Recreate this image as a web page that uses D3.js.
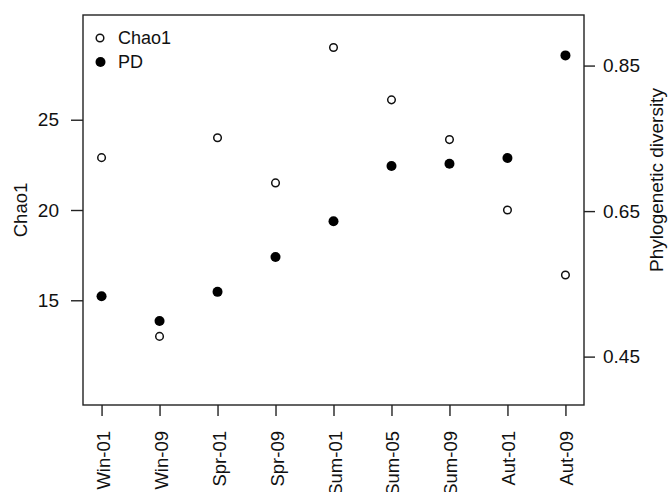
<!DOCTYPE html>
<html><head><meta charset="utf-8">
<script src="https://cdn.jsdelivr.net/npm/d3@7"></script>
<style>
html,body{margin:0;padding:0;background:#fff;}
svg{display:block;}
text{font-family:"Liberation Sans",Arial,Helvetica,sans-serif;fill:#111;}
</style></head>
<body>
<svg id="chart" width="668" height="492"></svg>
<script>
const categories = ["Win-01","Win-09","Spr-01","Spr-09","Sum-01","Sum-05","Sum-09","Aut-01","Aut-09"];
const chao1 = [22.9, 13.0, 24.0, 21.5, 29.0, 26.1, 23.9, 20.0, 16.4];
const pd = [0.533, 0.499, 0.539, 0.587, 0.636, 0.712, 0.715, 0.723, 0.864];
const leftTicks = [15, 20, 25];
const rightTicks = [0.45, 0.65, 0.85];
const rightTickLabels = ["0.45", "0.65", "0.85"];
const legendLabels = ["Chao1", "PD"];

const svg = d3.select("#chart");
const L = 83, R = 584, T = 15, B = 405;
const fsTick = 19, fsX = 18.5, fsLab = 18.5, fsLeg = 18;

const x = d3.scalePoint().domain(categories).range([L, R]).padding(0.32);
const yL = d3.scaleLinear().domain([9.2, 30.8]).range([B, T]);
const yR = d3.scaleLinear().domain([0.3835, 0.9195]).range([B, T]);

// box
svg.append("rect").attr("x", L).attr("y", T).attr("width", R - L).attr("height", B - T)
  .attr("fill", "none").attr("stroke", "#222").attr("stroke-width", 1.4);

const styleAxis = (g, fs) => {
  g.select(".domain").remove();
  g.selectAll(".tick line").attr("stroke", "#222").attr("stroke-width", 1.4);
  g.selectAll(".tick text").attr("font-size", fs).attr("fill", "#111")
    .attr("font-family", '"Liberation Sans",Arial,sans-serif');
};

svg.append("g").attr("transform", `translate(${L},0)`)
  .call(d3.axisLeft(yL).tickValues(leftTicks).tickSize(12).tickPadding(12))
  .call(g => styleAxis(g, fsTick));

svg.append("g").attr("transform", `translate(${R},0)`)
  .call(d3.axisRight(yR).tickValues(rightTicks).tickFormat((d, i) => rightTickLabels[i]).tickSize(11).tickPadding(8))
  .call(g => styleAxis(g, fsTick));

const xa = svg.append("g").attr("transform", `translate(0,${B})`)
  .call(d3.axisBottom(x).tickSize(11).tickPadding(0))
  .call(g => styleAxis(g, fsX));
xa.selectAll(".tick text")
  .attr("text-anchor", "end")
  .attr("dy", null)
  .attr("y", null)
  .attr("transform", "translate(1,26) rotate(-90)")
  .attr("dominant-baseline", "central");

// axis titles
svg.append("text").attr("transform", `translate(27,${(T + B) / 2}) rotate(-90)`)
  .attr("text-anchor", "middle").attr("font-size", fsLab).text("Chao1");
svg.append("text").attr("transform", `translate(663,180) rotate(-90)`)
  .attr("text-anchor", "middle").attr("font-size", 19).text("Phylogenetic diversity");

// points
svg.append("g").selectAll("circle").data(categories).join("circle")
  .attr("cx", d => x(d)).attr("cy", (d, i) => yL(chao1[i])).attr("r", 3.8)
  .attr("fill", "#fff").attr("stroke", "#111").attr("stroke-width", 1.5);
svg.append("g").selectAll("circle").data(categories).join("circle")
  .attr("cx", d => x(d)).attr("cy", (d, i) => yR(pd[i])).attr("r", 5)
  .attr("fill", "#000");

// legend
const lg = svg.append("g");
lg.append("circle").attr("cx", 100).attr("cy", 38).attr("r", 3.8)
  .attr("fill", "#fff").attr("stroke", "#111").attr("stroke-width", 1.5);
lg.append("circle").attr("cx", 100.5).attr("cy", 62).attr("r", 5).attr("fill", "#000");
lg.selectAll("text").data(legendLabels).join("text")
  .attr("x", 118).attr("y", (d, i) => 38 + i * 24).attr("dy", "0.35em")
  .attr("font-size", fsLeg).text(d => d);
</script>
</body></html>
